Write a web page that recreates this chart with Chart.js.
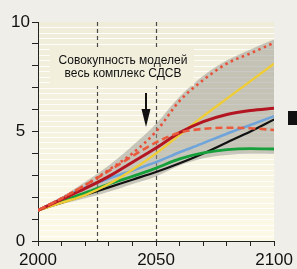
<!DOCTYPE html>
<html>
<head>
<meta charset="utf-8">
<script src="https://cdn.jsdelivr.net/npm/chart.js@4.4.0/dist/chart.umd.min.js"></script>
<style>
  html, body { margin: 0; padding: 0; background: #efeee9; }
  #wrap { width: 297px; height: 269px; }
</style>
</head>
<body>
<div id="wrap"><canvas id="chart" width="297" height="269"></canvas></div>
<script>
// values
const years      = [2000, 2010, 2020, 2030, 2040, 2050, 2060, 2070, 2080, 2090, 2100];
const bandUpper  = [1.4, 2.0, 2.7, 3.45, 4.35, 5.35, 6.6, 7.55, 8.25, 8.75, 9.2];
const bandLower  = [1.4, 1.68, 1.95, 2.25, 2.6, 2.95, 3.45, 3.78, 3.93, 3.98, 3.97];
const redDotted  = [1.4, 1.95, 2.55, 3.25, 4.0, 5.0, 6.4, 7.35, 8.1, 8.57, 9.05];
const redDashed  = [1.4, 1.95, 2.55, 3.2, 3.88, 4.5, 4.95, 5.12, 5.17, 5.15, 5.07];
const redSolid   = [1.4, 1.9, 2.4, 2.95, 3.6, 4.25, 4.95, 5.45, 5.78, 5.96, 6.06];
const yellow     = [1.4, 1.75, 2.1, 2.6, 3.25, 4.0, 4.85, 5.7, 6.5, 7.3, 8.1];
const blue       = [1.4, 1.95, 2.45, 2.85, 3.22, 3.6, 4.05, 4.47, 4.9, 5.3, 5.7];
const green      = [1.4, 1.82, 2.2, 2.6, 2.95, 3.33, 3.75, 4.02, 4.17, 4.22, 4.2];
const black      = [1.4, 1.75, 2.1, 2.45, 2.8, 3.15, 3.55, 4.0, 4.5, 5.0, 5.55];
const xTickLabels = [2000, 2050, 2100];
const yTickLabels = [0, 5, 10];
const markerYears = [2025, 2050];
const noteLines = ['Совокупность моделей', 'весь комплекс СДСВ'];

const pts = arr => arr.map((v, i) => ({ x: years[i], y: v }));

function line(data, color, width, dash, order) {
  return {
    data: pts(data), borderColor: color, borderWidth: width, borderDash: dash || [],
    pointRadius: 0, fill: false, cubicInterpolationMode: 'monotone', order: order
  };
}

const backdrop = {
  id: 'backdrop',
  beforeDraw(chart) {
    const c = chart.ctx, a = chart.chartArea, y = chart.scales.y;
    c.save();
    c.fillStyle = '#efeee9';
    c.fillRect(0, 0, chart.width, chart.height);
    const g = c.createLinearGradient(0, a.top, 0, a.bottom);
    g.addColorStop(0, '#efecda');
    g.addColorStop(1, '#fcf9e7');
    chart.$plotFill = g;
    c.fillStyle = g;
    c.fillRect(a.left, a.top, a.right - a.left, a.bottom - a.top);
    c.strokeStyle = 'rgba(255,255,255,0.85)';
    c.lineWidth = 1;
    for (let v = 0.25; v < 10; v += 0.25) {
      const py = Math.round(y.getPixelForValue(v)) + 0.5;
      c.beginPath(); c.moveTo(a.left, py); c.lineTo(a.right, py); c.stroke();
    }
    c.restore();
  },
  beforeDatasetsDraw(chart) {
    const c = chart.ctx, a = chart.chartArea, x = chart.scales.x;
    c.save();
    c.strokeStyle = '#4a4a4a';
    c.lineWidth = 1.2;
    c.setLineDash([4, 3]);
    markerYears.forEach(yr => {
      const px = Math.round(x.getPixelForValue(yr)) + 0.5;
      c.beginPath(); c.moveTo(px, a.top); c.lineTo(px, a.bottom); c.stroke();
    });
    c.restore();
  },
  afterDatasetsDraw(chart) {
    const c = chart.ctx;
    c.save();
    // box behind the note
    c.fillStyle = chart.$plotFill;
    c.fillRect(50, 49, 144, 37);
    c.fillStyle = '#111';
    c.font = '12px "Liberation Sans", Arial, sans-serif';
    c.textAlign = 'center';
    c.textBaseline = 'middle';
    c.fillText(noteLines[0], 123, 61);
    c.fillText(noteLines[1], 123, 73.5);
    // arrow
    c.strokeStyle = '#111';
    c.lineWidth = 2;
    c.beginPath(); c.moveTo(146, 93); c.lineTo(146, 112); c.stroke();
    c.beginPath(); c.moveTo(141.5, 109); c.lineTo(150.5, 109); c.lineTo(146, 127); c.closePath(); c.fill();
    // cut-off legend key on the right
    c.fillRect(288, 111, 9, 14);
    c.restore();
  }
};

new Chart(document.getElementById('chart'), {
  type: 'line',
  data: {
    datasets: [
      { data: pts(bandUpper), borderWidth: 0, pointRadius: 0, cubicInterpolationMode: 'monotone',
        backgroundColor: 'rgba(150,149,142,0.5)', fill: '+1', order: 20 },
      { data: pts(bandLower), borderWidth: 0, pointRadius: 0, cubicInterpolationMode: 'monotone',
        fill: false, order: 21 },
      line(black, '#111111', 2.2, null, 7),
      line(green, '#16a03c', 2.8, null, 6),
      line(blue, '#6fa4db', 2.6, null, 5),
      line(yellow, '#f0cd35', 2.4, null, 4),
      line(redSolid, '#b41621', 3, null, 3),
      line(redDashed, '#ea5a3c', 2.6, [7, 4], 2),
      line(redDotted, '#e8503a', 2.6, [2.5, 3.5], 1)
    ]
  },
  options: {
    responsive: false,
    devicePixelRatio: 1,
    animation: false,
    layout: { padding: { top: 22, right: 21, bottom: 0, left: 0 } },
    plugins: { legend: { display: false }, tooltip: { enabled: false } },
    scales: {
      x: {
        type: 'linear', min: 2000, max: 2100,
        ticks: {
          stepSize: 10, autoSkip: false, maxRotation: 0, padding: 4, color: '#111',
          font: { size: 17, family: '"Liberation Sans", Arial, sans-serif' },
          callback: v => xTickLabels.includes(v) ? String(v) : ''
        },
        grid: { drawOnChartArea: false, tickLength: 5, tickColor: '#222', tickWidth: 1 },
        border: { color: '#222', width: 1 },
        afterFit: s => { s.height = 28; }
      },
      y: {
        min: 0, max: 10,
        ticks: {
          stepSize: 1, autoSkip: false, padding: 2, crossAlign: 'center', color: '#111',
          font: { size: 17, family: '"Liberation Sans", Arial, sans-serif' },
          callback: v => yTickLabels.includes(v) ? String(v) : ''
        },
        grid: { drawOnChartArea: false, tickLength: 6, tickColor: '#222', tickWidth: 1 },
        border: { color: '#222', width: 1 },
        afterFit: s => { s.width = 38; }
      }
    }
  },
  plugins: [backdrop]
});
</script>
</body>
</html>
